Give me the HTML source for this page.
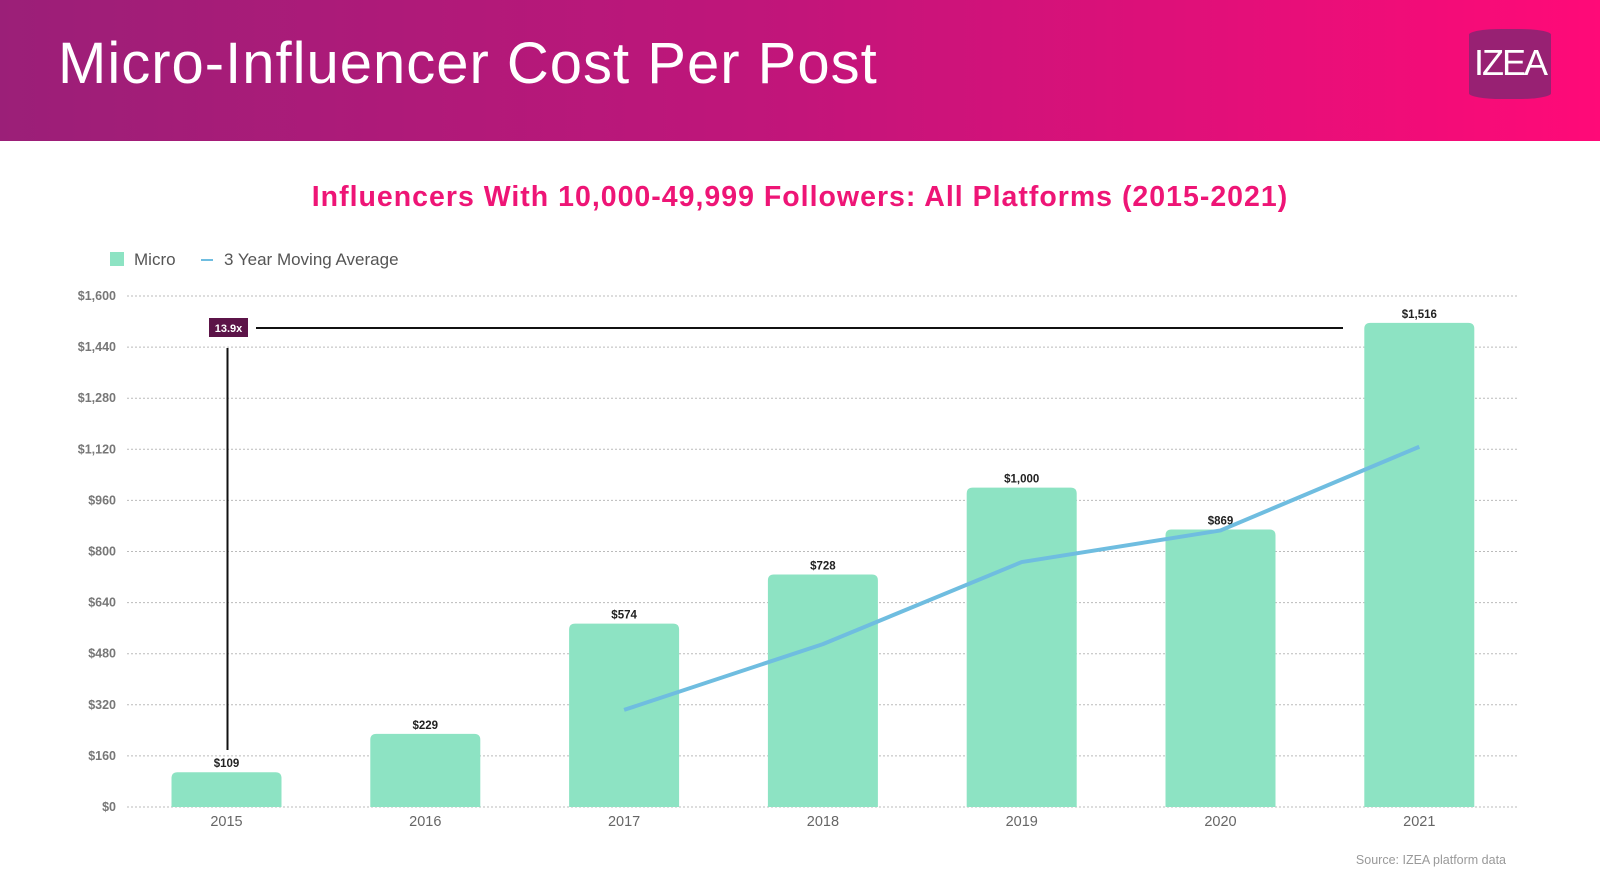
<!DOCTYPE html>
<html><head><meta charset="utf-8"><style>
body{margin:0;width:1600px;height:894px;background:#fff;font-family:"Liberation Sans",sans-serif;overflow:hidden;position:relative}
#hdr{position:absolute;left:0;top:0;width:1600px;height:141px;background:linear-gradient(90deg,#9b1f78 0%,#c2157a 50%,#ff0a78 100%)}
#title{position:absolute;left:58px;top:30px;color:#fff;font-size:58px;letter-spacing:1px}
#logo{position:absolute;left:1469px;top:29px;width:82px;height:70px;background:#982173;border-radius:40% 40% 40% 40%/8% 8% 8% 8%;color:#fff;font-size:36px;text-align:center;line-height:68px;letter-spacing:-2px}
#sub{position:absolute;left:0;width:1600px;top:181px;text-align:center;color:#ee1576;font-size:28.5px;font-weight:bold;letter-spacing:1px}
svg{position:absolute;left:0;top:0}
</style></head><body>
<div id="hdr"></div>
<div id="title">Micro-Influencer Cost Per Post</div>
<div id="logo">IZEA</div>
<div id="sub">Influencers With 10,000-49,999 Followers: All Platforms (2015-2021)</div>
<svg id="chart" width="1600" height="894"></svg>
<script>
const categories=["2015","2016","2017","2018","2019","2020","2021"];
const microValues=[109,229,574,728,1000,869,1516];
const barLabels=["$109","$229","$574","$728","$1,000","$869","$1,516"];
const avgValues=[null,null,304,510,767,866,1128];
const yTicks=[0,160,320,480,640,800,960,1120,1280,1440,1600];
const yTickLabels=["$0","$160","$320","$480","$640","$800","$960","$1,120","$1,280","$1,440","$1,600"];
const NS="http://www.w3.org/2000/svg";
const svg=document.getElementById('chart');
const y0=807,yTop=296,x0=127,x1=1518;
const y=v=>y0-(v/1600)*(y0-yTop);
const step=198.8,first=226.5;
const x=i=>first+i*step;
function mk(t,a,p){const e=document.createElementNS(NS,t);for(const k in a)e.setAttribute(k,a[k]);(p||svg).appendChild(e);return e;}
let e=mk('rect',{x:110,y:252,width:14,height:14,fill:'#8de3c3'});

e=mk('text',{x:134,y:265,'font-size':17,fill:'#555'});e.textContent='Micro';

e=mk('line',{x1:201,x2:213,y1:260,y2:260,stroke:'#6fbde0','stroke-width':2});

e=mk('text',{x:224,y:265,'font-size':17,fill:'#555'});e.textContent='3 Year Moving Average';

yTicks.forEach((t,i)=>{
 const g=mk('line',{x1:x0,x2:x1,y1:y(t),y2:y(t),stroke:'#bbb','stroke-dasharray':'2,2','stroke-width':1});
 
 const l=mk('text',{x:116,y:y(t)+4,'font-size':12.5,'font-weight':'bold',fill:'#777','text-anchor':'end'});
 l.textContent=yTickLabels[i];
 
});
const bw=110,r=6;
categories.forEach((c,i)=>{
 const cx=x(i),top=y(microValues[i]),l=cx-bw/2;
 const p=mk('path',{d:`M${l},${y0}V${top+r}Q${l},${top} ${l+r},${top}H${l+bw-r}Q${l+bw},${top} ${l+bw},${top+r}V${y0}Z`,fill:'#8de3c3'});
 
 const t=mk('text',{x:cx,y:top-5,'font-size':11.5,'font-weight':'bold',fill:'#222','text-anchor':'middle'});
 t.textContent=barLabels[i];
 
 const xl=mk('text',{x:cx,y:826,'font-size':14.5,fill:'#666','text-anchor':'middle'});
 xl.textContent=c;
 
});
let pts=[];avgValues.forEach((v,i)=>{if(v!==null)pts.push(x(i)+','+y(v));});
e=mk('polyline',{points:pts.join(' '),fill:'none',stroke:'#6fbde0','stroke-width':4,'stroke-linejoin':'round'});

e=mk('line',{x1:227.5,x2:227.5,y1:348,y2:750,stroke:'#111','stroke-width':2});

e=mk('line',{x1:256,x2:1343,y1:328,y2:328,stroke:'#111','stroke-width':2});

e=mk('rect',{x:209,y:318,width:39,height:19,fill:'#5c1448'});

e=mk('text',{x:228.5,y:332,'font-size':11,'font-weight':'bold',fill:'#fff','text-anchor':'middle'});e.textContent='13.9x';

e=mk('text',{x:1506,y:864,'font-size':12.5,fill:'#999','text-anchor':'end'});e.textContent='Source: IZEA platform data';

</script>
</body></html>
